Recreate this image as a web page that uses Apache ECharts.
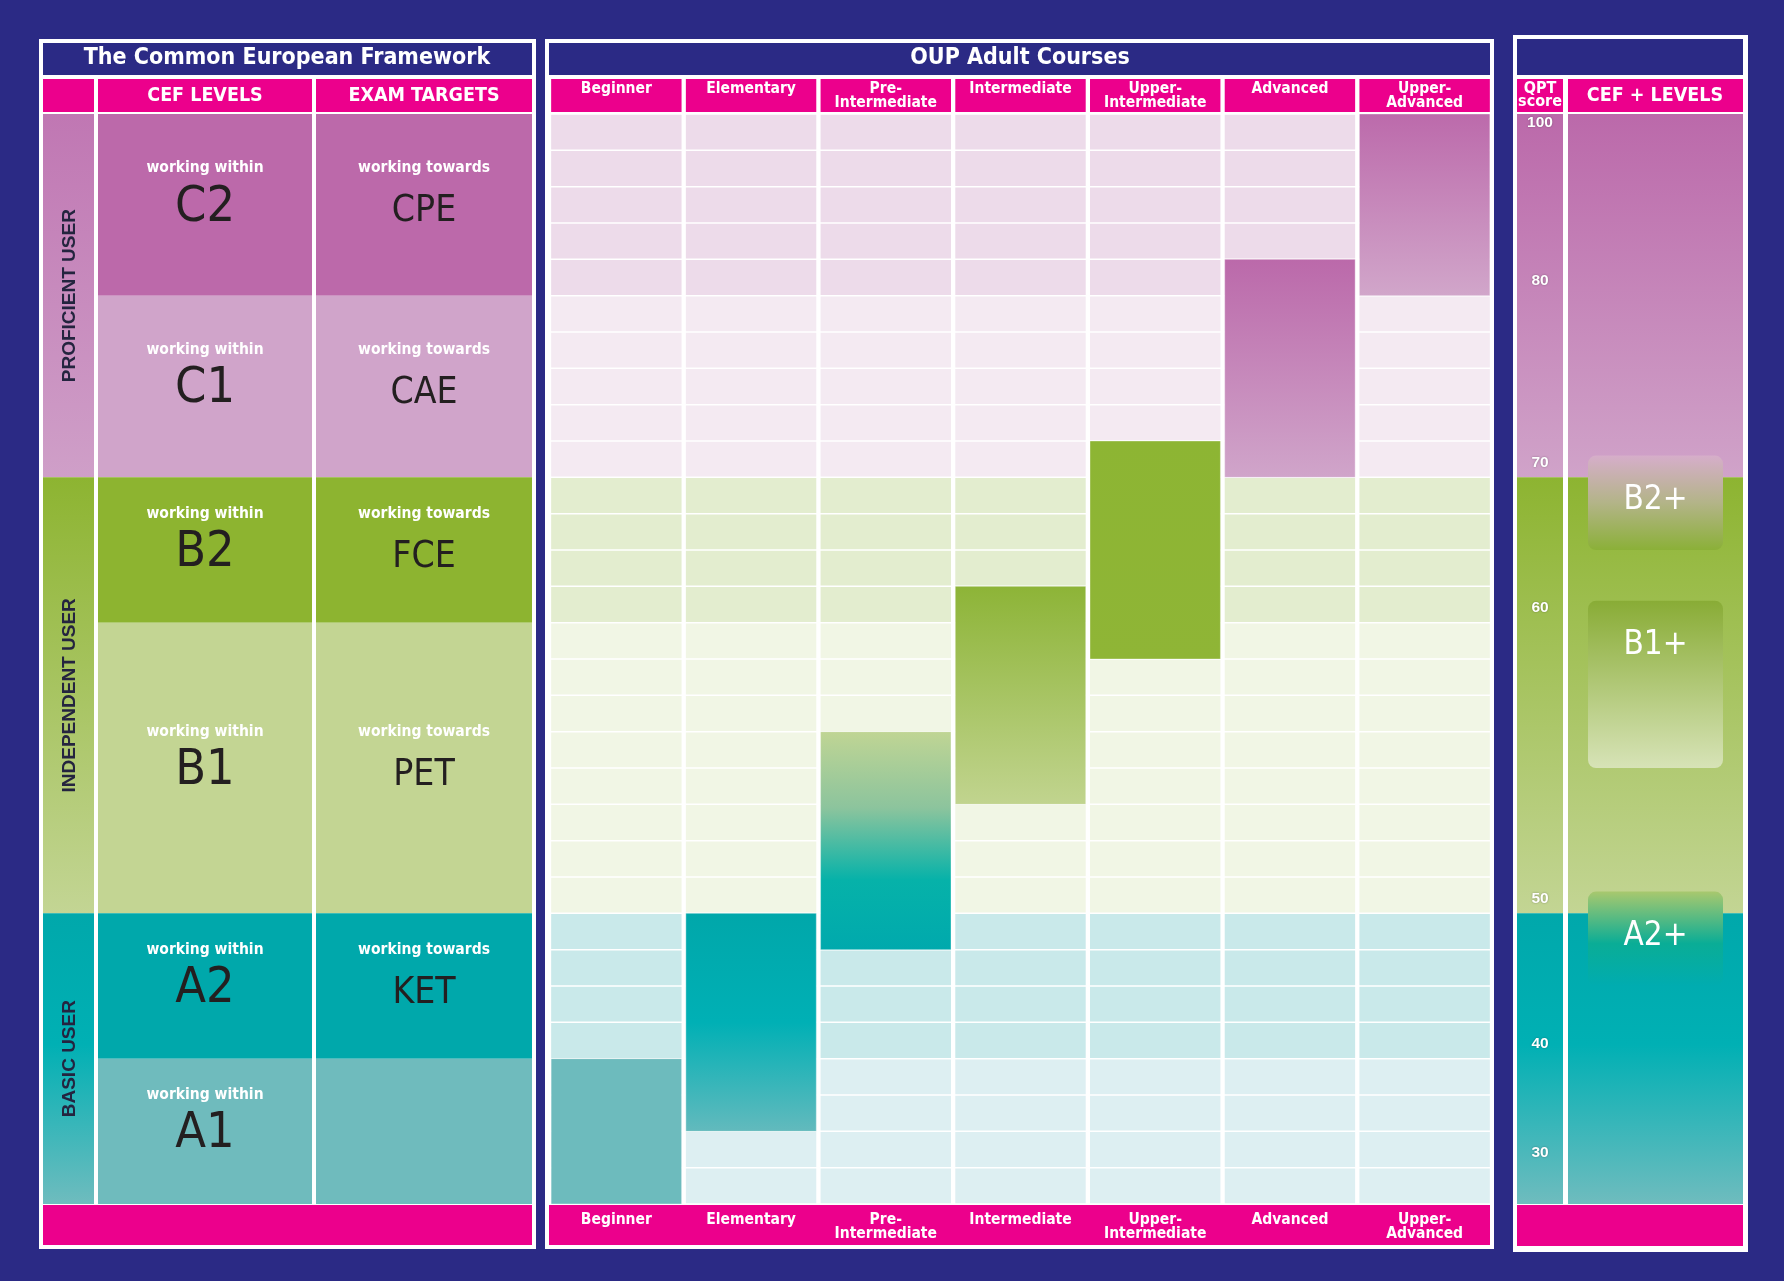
<!DOCTYPE html>
<html><head><meta charset="utf-8">
<script src="https://cdn.jsdelivr.net/npm/echarts@6/dist/echarts.min.js"></script>
<style>html,body{margin:0;padding:0;background:#2b2a85}#chart{width:1784px;height:1281px}</style>
</head><body><div id="chart"></div>
<script>
// ---------- data ----------
const ROWS = 30;
const courses = ['Beginner','Elementary','Pre-\nIntermediate','Intermediate','Upper-\nIntermediate','Advanced','Upper-\nAdvanced'];
const courseFrom = [0, 2, 7, 11, 15, 20, 25];
const courseTo   = [4, 8, 13, 17, 21, 26, 30];

const cefLevels   = ['C2','C1','B2','B1','A2','A1'];
const levelFrom   = [25, 20, 16, 8, 4, 0];
const levelTo     = [30, 25, 20, 16, 8, 4];
const examTargets = ['CPE','CAE','FCE','PET','KET',''];

const userGroups = ['PROFICIENT USER','INDEPENDENT USER','BASIC USER'];
const userFrom   = [20, 8, 0];
const userTo     = [30, 20, 8];

const qptScores = [100, 80, 70, 60, 50, 40, 30];
const qptRowAt  = [30, 25, 20, 16, 8, 4, 1];

const cefPlus     = ['B2+','B1+','A2+'];
const cefPlusFrom = [18, 12, 6];
const cefPlusTo   = [20.6, 16.6, 8.6];

// ---------- styles ----------
const NAVY = '#2b2a85', PINK = '#ec008c', DARK = '#231f20';
const FN = "'Liberation Sans Narrow','DejaVu Sans Condensed','Roboto Condensed','Liberation Sans',sans-serif";
const FB = "'Liberation Sans','Roboto',sans-serif";
const levelFill = ['#bc69aa','#d0a4ca','#8db430','#c3d593','#00a8ab','#6fbbbd'];
const cellFill  = ['#eddbea','#f4eaf2','#e3edcf','#f1f6e5','#c9e9ea','#ddeff2'];
const userGrad = [
  [[0,'#bb69aa'],[1,'#d0a3c9']],
  [[0,'#8db431'],[1,'#c3d594']],
  [[0,'#00a8ab'],[0.45,'#00b0b4'],[1,'#6fbcbe']]
];
const leftUserGrad = [
  [[0,'#c077b3'],[1,'#cf9fc8']],
  [[0,'#8db431'],[1,'#c3d594']],
  [[0,'#00a8ab'],[0.45,'#00b0b4'],[1,'#6fbcbe']]
];
const courseGrad = [
  [[0,'#6dbbbd'],[1,'#6dbbbd']],
  [[0,'#00a7aa'],[0.5,'#00b0b5'],[1,'#63babd']],
  [[0,'#c0d594'],[0.35,'#8cc49d'],[0.68,'#06b2a9'],[1,'#00a9ad']],
  [[0,'#8db437'],[1,'#c1d48f']],
  [[0,'#8db533'],[1,'#8fb536']],
  [[0,'#bb69aa'],[1,'#d0a5ca']],
  [[0,'#bc6aab'],[1,'#d1a6ca']]
];
const plusGrad = [
  [[0,'#d6aeca'],[0.5,'#b3b488'],[1,'#8bb038']],
  [[0,'#89ac36'],[1,'#d7e3b7']],
  [[0,'#a8c86e'],[0.55,'#0aad96'],[1,'#00acb0']]
];
function grad(stops){ return new echarts.graphic.LinearGradient(0,0,0,1, stops.map(s=>({offset:s[0],color:s[1]}))); }
function bandOf(row){ for(let i=0;i<levelFrom.length;i++){ if(row>=levelFrom[i] && row<levelTo[i]) return i; } return 0; }

// ---------- layout ----------
const TOP = 114, H = 1090;
const grids = [
  {left:43,   top:TOP, width:51,  height:H},
  {left:98,   top:TOP, width:214, height:H},
  {left:316,  top:TOP, width:216, height:H},
  {left:549,  top:TOP, width:943, height:H},
  {left:1517, top:TOP, width:46,  height:H},
  {left:1568, top:TOP, width:175, height:H}
];
const hiddenX = g => ({gridIndex:g, type:'category', data:[''], show:false});
const courseLabel = {color:'#fff', fontFamily:FN, fontWeight:'bold', fontSize:15.5, lineHeight:14, interval:0, verticalAlign:'top'};
const xAxes = [
  hiddenX(0), hiddenX(1), hiddenX(2),
  {gridIndex:3, type:'category', data:courses, position:'bottom', z:10,
   axisLine:{show:false}, axisTick:{show:false}, splitLine:{show:false},
   axisLabel:Object.assign({margin:9}, courseLabel)},
  {gridIndex:3, type:'category', data:courses, position:'top', z:10,
   axisLine:{show:false}, axisTick:{show:false}, splitLine:{show:false},
   axisLabel:Object.assign({margin:32}, courseLabel)},
  hiddenX(4), hiddenX(5)
];
const yAxes = grids.map((g,i)=>({gridIndex:i, type:'value', min:0, max:ROWS, show:false}));

// ---------- render helpers ----------
function userRender(withText, grads){
  return function(params, api){
    const lo=api.value(1), hi=api.value(2), idx=api.value(3);
    const pT=api.coord([0,hi]), pB=api.coord([0,lo]); const bw=api.size([1,0])[0];
    const ch=[{type:'rect', shape:{x:pT[0]-bw/2, y:pT[1], width:bw, height:pB[1]-pT[1]}, style:{fill:grad(grads[idx])}}];
    if(withText){
      ch.push({type:'text', x:pT[0]+1, y:(pT[1]+pB[1])/2, rotation:Math.PI/2,
        style:{text:userGroups[idx], fill:'#24243f', font:"bold 19px "+FB, align:'center', verticalAlign:'middle'}});
    }
    return {type:'group', children:ch};
  };
}
function levelRender(names, sub, bigSize, bigDy){
  return function(params, api){
    const lo=api.value(1), hi=api.value(2), idx=api.value(3);
    const pT=api.coord([0,hi]), pB=api.coord([0,lo]); const bw=api.size([1,0])[0];
    const cy=(pT[1]+pB[1])/2;
    const ch=[{type:'rect', shape:{x:pT[0]-bw/2, y:pT[1], width:bw, height:pB[1]-pT[1]}, style:{fill:levelFill[idx]}}];
    if(names[idx]){
      ch.push({type:'text', x:pT[0], y:cy-36.5, style:{text:sub, fill:'#fff', font:"bold 15.5px "+FN, align:'center', verticalAlign:'middle'}});
      ch.push({type:'text', x:pT[0], y:cy+bigDy, style:{text:names[idx], fill:DARK, font:bigSize+"px "+FN, align:'center', verticalAlign:'middle'}});
    }
    return {type:'group', children:ch};
  };
}
function cellRender(params, api){
  const col=api.value(0), row=api.value(1);
  const pT=api.coord([col,row+1]), pB=api.coord([col,row]); const bw=api.size([1,0])[0];
  return {type:'rect', shape:{x:pT[0]-bw/2+2.15, y:pT[1]+0.75, width:bw-4.3, height:pB[1]-pT[1]-1.5}, style:{fill:cellFill[bandOf(row)]}};
}
function headRender(params, api){
  const col=api.value(0);
  const pT=api.coord([col,ROWS]); const bw=api.size([1,0])[0];
  return {type:'rect', shape:{x:pT[0]-bw/2+2.15, y:pT[1]-35, width:bw-4.3, height:33}, style:{fill:PINK}};
}
function barRender(params, api){
  const col=api.value(0), lo=api.value(1), hi=api.value(2);
  const pT=api.coord([col,hi]), pB=api.coord([col,lo]); const bw=api.size([1,0])[0];
  return {type:'rect', shape:{x:pT[0]-bw/2+2.15, y:pT[1], width:bw-4.3, height:pB[1]-pT[1]},
    style:{fill:grad(courseGrad[col]), stroke:'rgba(255,255,255,0.35)', lineWidth:1}};
}
function qptRender(params, api){
  const row=api.value(1), idx=api.value(2);
  const p=api.coord([0,row]);
  const atTop = row>=ROWS;
  return {type:'text', x:p[0], y: atTop ? p[1]+9 : p[1]-15,
    style:{text:String(qptScores[idx]), fill:'#fff', font:"bold 15.5px "+FB, align:'center', verticalAlign:'middle',
      textShadowColor:'rgba(0,0,0,0.35)', textShadowBlur:2}};
}
function plusRender(params, api){
  const lo=api.value(1), hi=api.value(2), idx=api.value(3);
  const pT=api.coord([0,hi]), pB=api.coord([0,lo]); const bw=api.size([1,0])[0];
  const w=bw-40;
  return {type:'group', children:[
    {type:'rect', shape:{x:pT[0]-w/2, y:pT[1], width:w, height:pB[1]-pT[1], r:8}, style:{fill:grad(plusGrad[idx])}},
    {type:'text', x:pT[0], y:pT[1]+45, style:{text:cefPlus[idx], fill:'#fff', font:"33px "+FN, align:'center', verticalAlign:'middle'}}
  ]};
}

// ---------- data for series ----------
const userData  = userGroups.map((n,i)=>[0, userFrom[i], userTo[i], i]);
const levelData = cefLevels.map((n,i)=>[0, levelFrom[i], levelTo[i], i]);
const cellData = [];
courses.forEach((c,ci)=>{ for(let r=0;r<ROWS;r++) cellData.push([ci, r]); });
const headData = courses.map((c,i)=>[i, ROWS]);
const barData  = courses.map((c,i)=>[i, courseFrom[i], courseTo[i]]);
const qptData  = qptScores.map((s,i)=>[0, qptRowAt[i], i]);
const plusData = cefPlus.map((n,i)=>[0, cefPlusFrom[i], cefPlusTo[i], i]);

const series = [
  {type:'custom', xAxisIndex:0, yAxisIndex:0, renderItem:userRender(true, leftUserGrad), data:userData},
  {type:'custom', xAxisIndex:1, yAxisIndex:1, renderItem:levelRender(cefLevels,'working within',50,3), data:levelData},
  {type:'custom', xAxisIndex:2, yAxisIndex:2, renderItem:levelRender(examTargets,'working towards',37,7), data:levelData},
  {type:'custom', xAxisIndex:3, yAxisIndex:3, renderItem:cellRender, data:cellData},
  {type:'custom', xAxisIndex:3, yAxisIndex:3, renderItem:headRender, data:headData},
  {type:'custom', xAxisIndex:3, yAxisIndex:3, renderItem:barRender, data:barData, z:3},
  {type:'custom', xAxisIndex:5, yAxisIndex:4, renderItem:userRender(false, userGrad), data:userData},
  {type:'custom', xAxisIndex:5, yAxisIndex:4, renderItem:qptRender, data:qptData, z:4},
  {type:'custom', xAxisIndex:6, yAxisIndex:5, renderItem:userRender(false, userGrad), data:userData},
  {type:'custom', xAxisIndex:6, yAxisIndex:5, renderItem:plusRender, data:plusData, z:4}
];

// ---------- static frame ----------
const R = (x,y,w,h,fill)=>({type:'rect', shape:{x,y,width:w,height:h}, style:{fill}, z:0, silent:true});
const T = (x,y,text,font,fill,extra)=>({type:'text', x, y, z:20, silent:true, style:Object.assign({text, font, fill:fill||'#fff', align:'center', verticalAlign:'middle'}, extra||{})});
const graphic = [
  R(39,39,497,1210,'#ffffff'), R(545,39,949,1210,'#ffffff'), R(1513,35,235,1217,'#ffffff'),
  R(43,43,489,32,NAVY), R(549,43,941,32,NAVY), R(1517,39,226,36,NAVY),
  R(43,79,51,33,PINK), R(98,79,214,33,PINK), R(316,79,216,33,PINK),
  R(1517,79,46,33,PINK), R(1568,79,175,33,PINK),
  R(43,1205,489,40,PINK), R(549,1205,941,40,PINK), R(1517,1205,226,41,PINK),
  T(287,58,'The Common European Framework',"bold 23px "+FN),
  T(1020,58,'OUP Adult Courses',"bold 23px "+FN),
  T(205,96,'CEF LEVELS',"bold 19.5px "+FN),
  T(424,96,'EXAM TARGETS',"bold 19.5px "+FN),
  T(1540,95,'QPT\nscore',"bold 16px "+FN,'#fff',{lineHeight:13}),
  T(1655,96,'CEF + LEVELS',"bold 19.5px "+FN)
];

const chart = echarts.init(document.getElementById('chart'), null, {renderer:'canvas'});
chart.setOption({
  backgroundColor: NAVY,
  animation:false,
  grid: grids,
  xAxis: xAxes,
  yAxis: yAxes,
  graphic: graphic,
  series: series
});
</script></body></html>
